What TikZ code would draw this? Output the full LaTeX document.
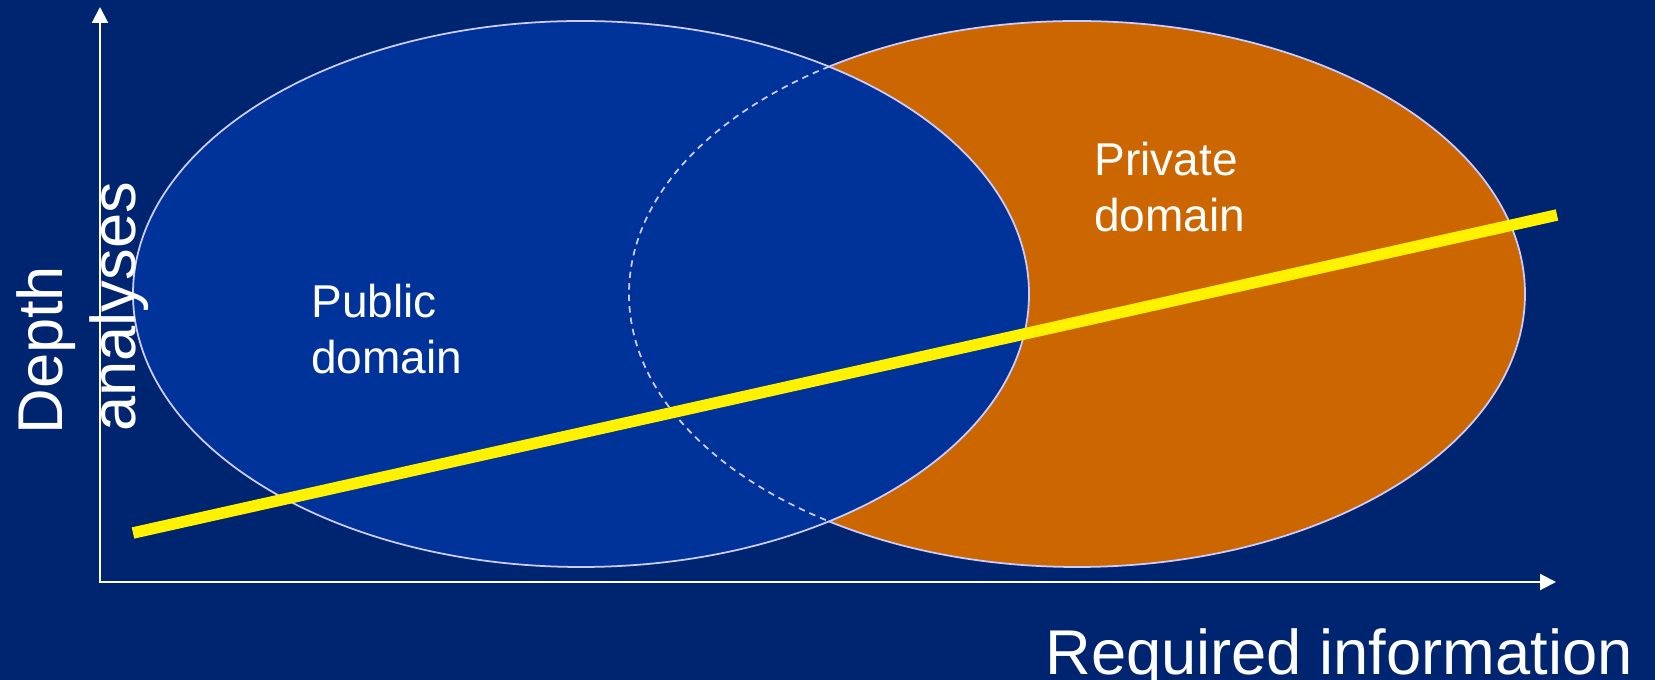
\documentclass[tikz,border=0pt]{standalone}
\usepackage{fontspec}
\setmainfont{Liberation Sans}
\usetikzlibrary{arrows.meta}
\definecolor{navybg}{RGB}{0,37,112}
\definecolor{publicblue}{RGB}{0,51,153}
\definecolor{privateorange}{RGB}{204,102,0}
\definecolor{rimlilac}{RGB}{204,204,255}

\begin{document}
\begin{tikzpicture}[
    axis/.style={draw=white,line width=1.2pt,{Triangle[length=0.32cm,width=0.32cm]}-{Triangle[length=0.32cm,width=0.32cm]}},
    rim/.style={draw=rimlilac,line width=1pt},
    biglabel/.style={text=white,inner sep=0pt,font=\fontsize{36pt}{42pt}\selectfont},
    domlabel/.style={text=white,inner sep=0pt,align=left,font=\fontsize{26.2pt}{32pt}\selectfont}
  ]

  \fill[navybg] (0,0) rectangle (33.1,13.6);
  \useasboundingbox (0,0) rectangle (33.1,13.6);

  \coordinate (origin) at (2.0,1.96);
  \coordinate (ytip) at (2.0,13.46);
  \coordinate (xtip) at (31.12,1.96);
  \draw[axis] (ytip) -- (origin) -- (xtip);

  \begin{scope}[x radius=8.96cm, y radius=5.46cm]
    \coordinate (pubc) at (11.62,7.72);
    \coordinate (privc) at (21.54,7.72);
    \filldraw[rim,fill=privateorange] (privc) ellipse [];
    \filldraw[rim,fill=publicblue] (pubc) ellipse [];
    \begin{scope}
      \clip (pubc) ellipse [];
      \draw[rim,dash pattern=on 0.13cm off 0.1cm] (privc) ellipse [];
    \end{scope}
  \end{scope}

  \coordinate (trendlow) at (2.66,2.94);
  \coordinate (trendhigh) at (31.14,9.30);
  \draw[yellow,line width=0.23cm] (trendlow) -- (trendhigh);

  \node[domlabel,anchor=base west] (public) at (6.22,6.12) {Public\\domain};
  \node[domlabel,anchor=base west] (private) at (21.88,8.96) {Private\\domain};

  \node[biglabel,anchor=base west] (required) at (20.9,0.1) {Required information};
  \node[biglabel,anchor=base west,rotate=90] (depth) at (1.24,4.9) {Depth};
  \node[biglabel,anchor=base west,rotate=90] (analyses) at (2.7,4.96) {analyses};

\end{tikzpicture}
\end{document}
